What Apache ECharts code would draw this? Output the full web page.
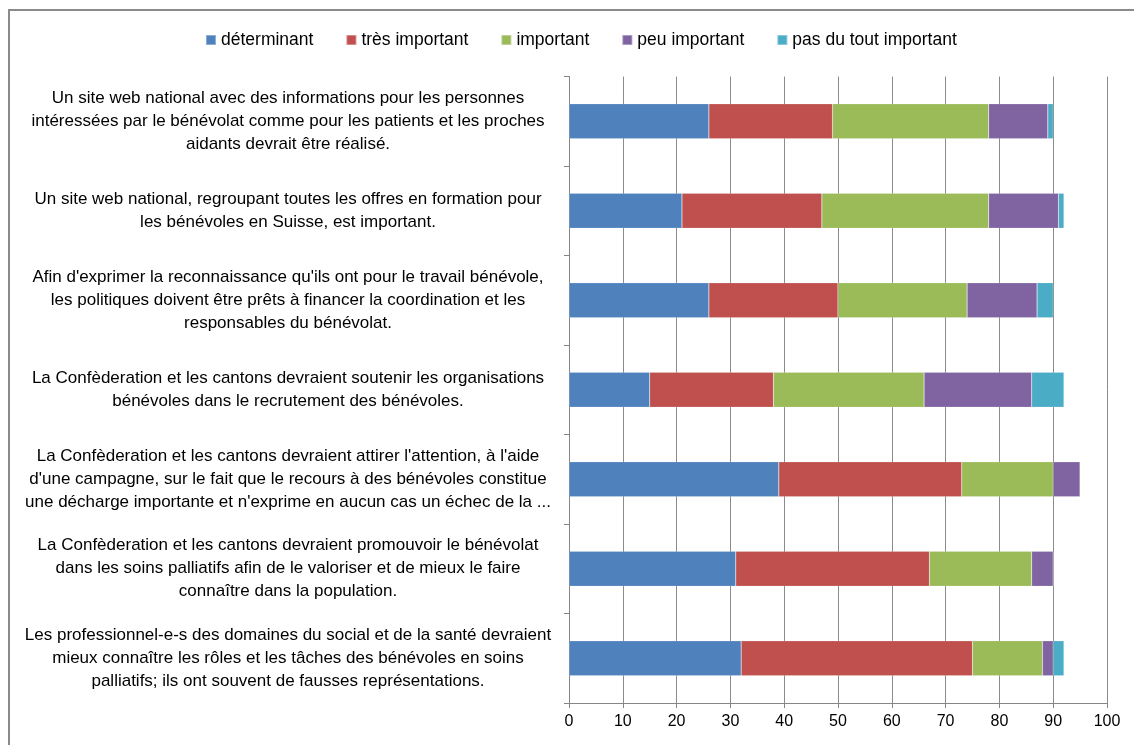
<!DOCTYPE html>
<html>
<head>
<meta charset="utf-8">
<script src="https://cdn.jsdelivr.net/npm/echarts@6/dist/echarts.min.js"></script>
<style>
html,body{margin:0;padding:0;background:#fff;}
#chart{width:1134px;height:745px;}
</style>
</head>
<body>
<div id="chart"></div>
<script>
const categories = [
  "Un site web national avec des informations pour les personnes\nintéressées par le bénévolat comme pour les patients et les proches\naidants devrait être réalisé.",
  "Un site web national, regroupant toutes les offres en formation pour\nles bénévoles en Suisse, est important.",
  "Afin d'exprimer la reconnaissance qu'ils ont pour le travail bénévole,\nles politiques doivent être prêts à financer la coordination et les\nresponsables du bénévolat.",
  "La Confèderation et les cantons devraient soutenir les organisations\nbénévoles dans le recrutement des bénévoles.",
  "La Confèderation et les cantons devraient attirer l'attention, à l'aide\nd'une campagne, sur le fait que le recours à des bénévoles constitue\nune décharge importante et n'exprime en aucun cas un échec de la ...",
  "La Confèderation et les cantons devraient promouvoir le bénévolat\ndans les soins palliatifs afin de le valoriser et de mieux le faire\nconnaître dans la population.",
  "Les professionnel-e-s des domaines du social et de la santé devraient\nmieux connaître les rôles et les tâches des bénévoles en soins\npalliatifs; ils ont souvent de fausses représentations."
];
const seriesNames = ["déterminant", "très important", "important", "peu important", "pas du tout important"];
const determinant   = [26, 21, 26, 15, 39, 31, 32];
const tresImportant = [23, 26, 24, 23, 34, 36, 43];
const important     = [29, 31, 24, 28, 17, 19, 13];
const peuImportant  = [11, 13, 13, 20, 5, 4, 2];
const pasDuTout     = [1, 1, 3, 6, 0, 0, 2];
const xTicks = [0, 10, 20, 30, 40, 50, 60, 70, 80, 90, 100];

const colors = ["#4F81BD", "#C0504D", "#9BBB59", "#8064A2", "#4BACC6"];
const values = [determinant, tresImportant, important, peuImportant, pasDuTout];
const FONT = "Liberation Sans";

const chart = echarts.init(document.getElementById('chart'));
chart.setOption({
  animation: false,
  backgroundColor: '#fff',
  textStyle: { fontFamily: FONT },
  graphic: [{
    type: 'rect',
    shape: { x: 9, y: 10, width: 1200, height: 800 },
    style: { fill: 'none', stroke: '#8a8a8a', lineWidth: 2 },
    silent: true
  }],
  legend: {
    top: 26,
    left: 200,
    itemWidth: 10,
    itemHeight: 10,
    itemGap: 32,
    icon: 'rect',
    data: seriesNames,
    textStyle: { fontFamily: FONT, fontSize: 17.5, color: '#000' }
  },
  grid: { left: 569, right: 27, top: 76.5, bottom: 42, containLabel: false },
  xAxis: {
    type: 'value',
    min: xTicks[0],
    max: xTicks[xTicks.length - 1],
    interval: 10,
    axisLine: { show: true, lineStyle: { color: '#868686', width: 1 } },
    axisTick: { show: true, length: 5, lineStyle: { color: '#868686' } },
    axisLabel: { fontFamily: FONT, fontSize: 16, color: '#000', margin: 11 },
    splitLine: { show: true, lineStyle: { color: '#8c8c8c', width: 1 } }
  },
  yAxis: {
    type: 'category',
    inverse: true,
    data: categories,
    axisLine: { show: true, lineStyle: { color: '#868686', width: 1 } },
    axisTick: { show: true, length: 5, lineStyle: { color: '#868686' } },
    axisLabel: {
      fontFamily: FONT, fontSize: 17, color: '#000',
      align: 'center', margin: 281, lineHeight: 23
    }
  },
  series: seriesNames.map((name, i) => ({
    name: name,
    type: 'bar',
    stack: 'total',
    barWidth: 35,
    data: values[i],
    itemStyle: { color: colors[i], borderColor: 'rgba(255,255,255,0.35)', borderWidth: 0.5 }
  }))
});
</script>
</body>
</html>
